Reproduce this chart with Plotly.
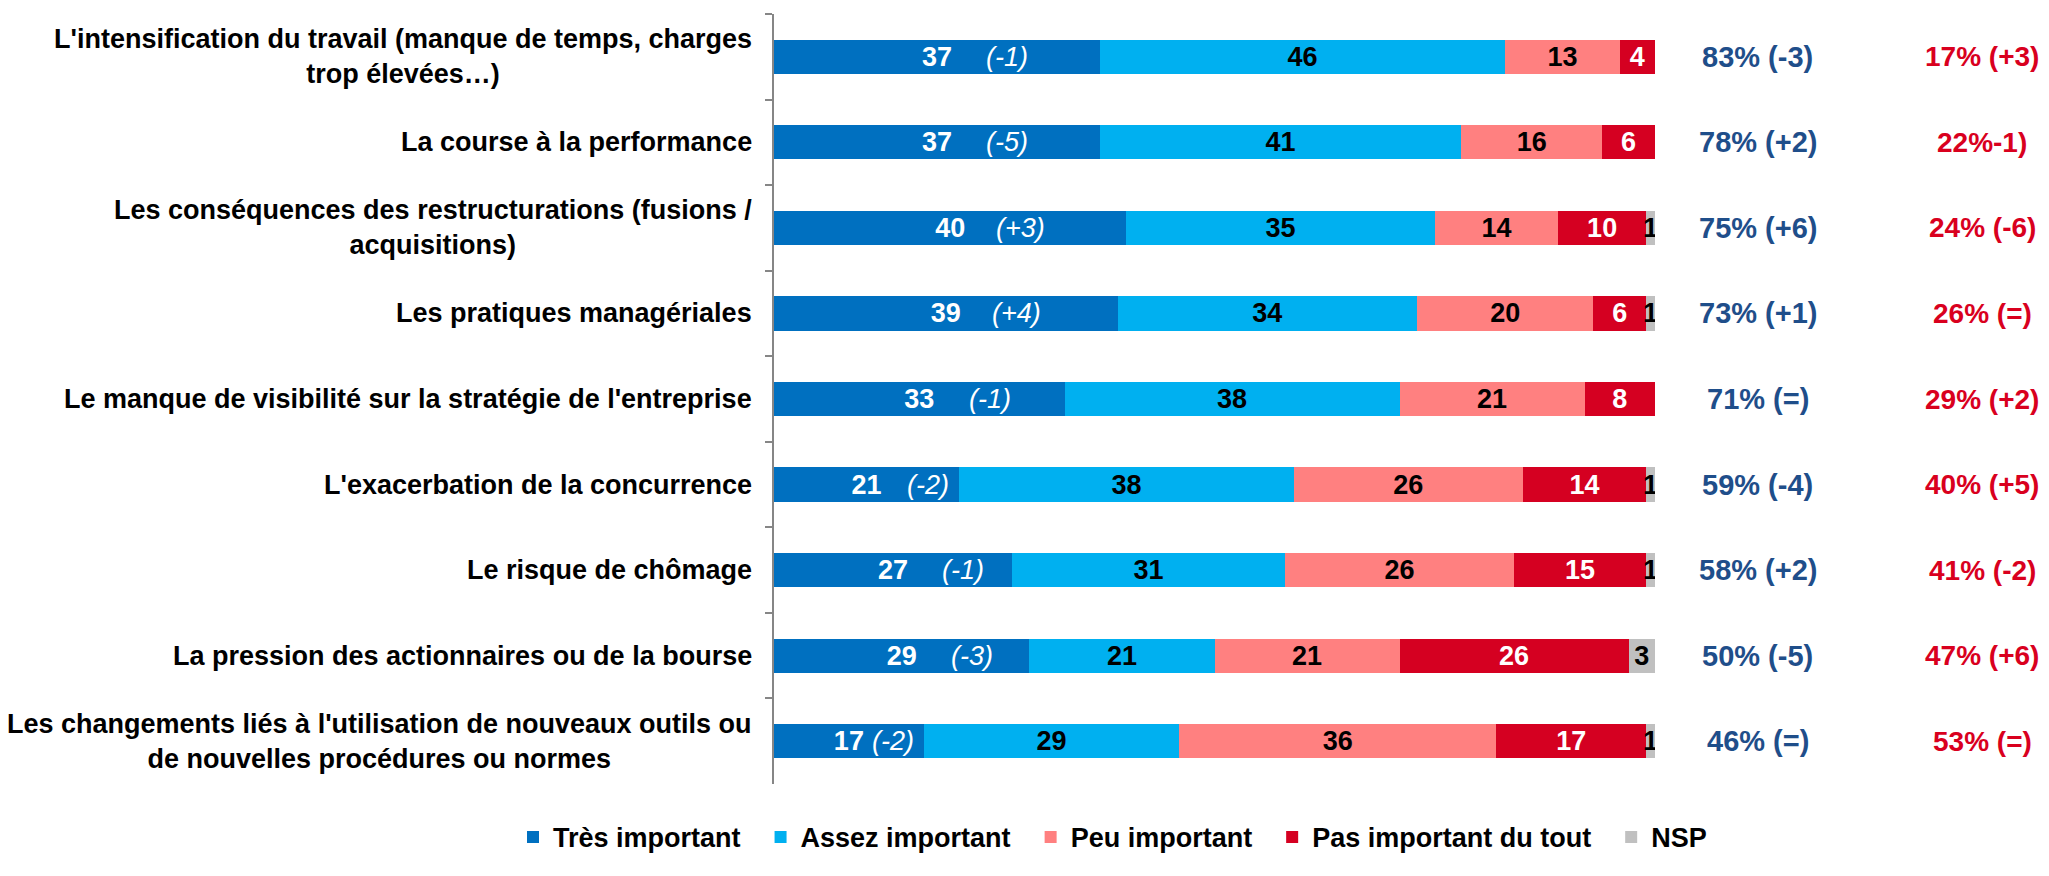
import plotly.graph_objects as go

categories = [
    "L'intensification du travail (manque de temps, charges<br>trop élevées…)",
    "La course à la performance",
    "Les conséquences des restructurations (fusions /<br>acquisitions)",
    "Les pratiques managériales",
    "Le manque de visibilité sur la stratégie de l'entreprise",
    "L'exacerbation de la concurrence",
    "Le risque de chômage",
    "La pression des actionnaires ou de la bourse",
    "Les changements liés à l'utilisation de nouveaux outils ou<br>de nouvelles procédures ou normes",
]
tres_important = [37, 37, 40, 39, 33, 21, 27, 29, 17]
assez_important = [46, 41, 35, 34, 38, 38, 31, 21, 29]
peu_important = [13, 16, 14, 20, 21, 26, 26, 21, 36]
pas_important = [4, 6, 10, 6, 8, 14, 15, 26, 17]
nsp = [0, 0, 1, 1, 0, 1, 1, 3, 1]
evolution_tres = ["(-1)", "(-5)", "(+3)", "(+4)", "(-1)", "(-2)", "(-1)", "(-3)", "(-2)"]
total_important = ["83% (-3)", "78% (+2)", "75% (+6)", "73% (+1)", "71% (=)",
                   "59% (-4)", "58% (+2)", "50% (-5)", "46% (=)"]
total_pas_important = ["17% (+3)", "22%-1)", "24% (-6)", "26% (=)", "29% (+2)",
                       "40% (+5)", "41% (-2)", "47% (+6)", "53% (=)"]

FONT = "Liberation Sans, Arial, sans-serif"
series = [
    ("Très important", tres_important, "#0070C0", "white"),
    ("Assez important", assez_important, "#00B0F0", "black"),
    ("Peu important", peu_important, "#FF8080", "black"),
    ("Pas important du tout", pas_important, "#D50021", "white"),
    ("NSP", nsp, "#C0C0C0", "black"),
]

fig = go.Figure()
for name, vals, color, tcolor in series:
    fig.add_trace(go.Bar(
        name="<b>" + name + "</b>" + "\u00a0" * 2, y=categories, x=vals, orientation="h",
        marker=dict(color=color, line=dict(width=0)),
        text=[str(v) if v else "" for v in vals],
        textposition="inside", insidetextanchor="middle",
        textangle=0, constraintext="none",
        textfont=dict(family=FONT, size=27, color=tcolor, weight="bold"),
        hoverinfo="skip",
    ))

annotations = []
for i, cat in enumerate(categories):
    annotations.append(dict(
        x=0, xref="paper", y=cat, yref="y", xanchor="right", yanchor="middle",
        xshift=-20, text="<b>" + cat + "</b>", showarrow=False, align="center",
        font=dict(family=FONT, size=27, color="black")))
    v = tres_important[i]
    annotations.append(dict(
        x=min(v / 2 + 8, v - 3.5), xref="x", y=cat, yref="y",
        xanchor="center", yanchor="middle", text="<i>" + evolution_tres[i] + "</i>",
        showarrow=False, font=dict(family=FONT, size=27, color="white")))
    annotations.append(dict(
        x=1.1165, xref="paper", y=cat, yref="y", xanchor="center", yanchor="middle",
        text="<b>" + total_important[i] + "</b>", showarrow=False,
        font=dict(family=FONT, size=29, color="#1F4E8A")))
    annotations.append(dict(
        x=1.3715, xref="paper", y=cat, yref="y", xanchor="center", yanchor="middle",
        text="<b>" + total_pas_important[i] + "</b>", showarrow=False,
        font=dict(family=FONT, size=28, color="#D9001E")))

W, H = 2033, 860
L, R, T, B = 766, 386, 6, 60
PW, PH = W - L - R, H - T - B
fig.update_layout(
    barmode="stack", bargap=0.6,
    width=W, height=H,
    margin=dict(l=L, r=R, t=T, b=B),
    paper_bgcolor="white", plot_bgcolor="white",
    font=dict(family=FONT, size=26, color="black"),
    xaxis=dict(range=[0, 100], visible=False, fixedrange=True),
    yaxis=dict(autorange="reversed", showticklabels=False, showline=True,
               linecolor="#868686", linewidth=2, ticks="outside", ticklen=7,
               tickcolor="#868686", tickwidth=2, tickson="boundaries",
               showgrid=False, zeroline=False),
    legend=dict(orientation="h", xref="paper", yref="paper",
                x=(505 - L) / PW, xanchor="left",
                y=-(855 - (H - B)) / PH, yanchor="middle",
                font=dict(family=FONT, size=27, color="black"),
                itemwidth=30, traceorder="normal", tracegroupgap=0),
    annotations=annotations,
    showlegend=True,
)

fig.write_html("out.html")
